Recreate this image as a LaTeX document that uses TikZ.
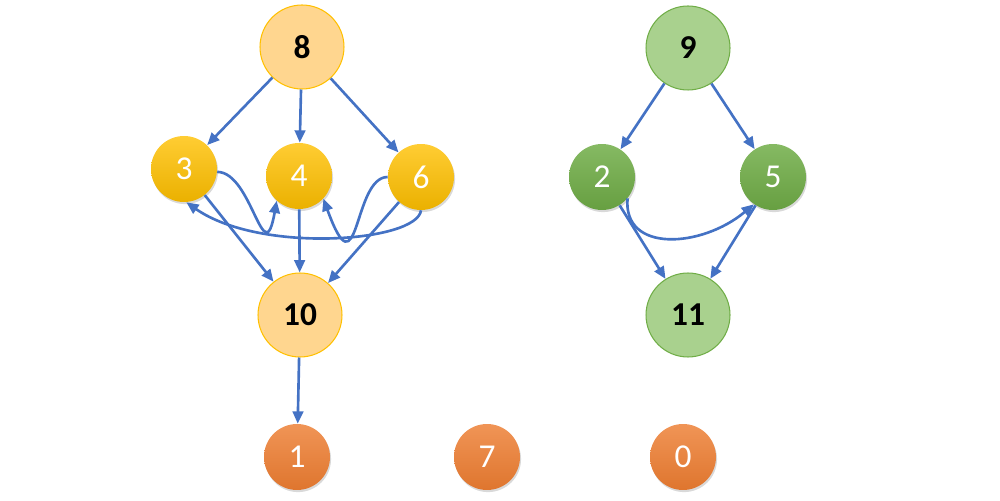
\documentclass[tikz,border=0pt]{standalone}
\usepackage{fontspec}
\setmainfont{Carlito}
\usetikzlibrary{arrows.meta,shadows}
\definecolor{linkblue}{HTML}{4472C4}
\definecolor{peach}{HTML}{FFD68F}
\definecolor{gold}{HTML}{FFC000}
\definecolor{leaf}{HTML}{70AD47}
\definecolor{mint}{HTML}{A9D18E}
\definecolor{tangerine}{HTML}{ED7D31}

\begin{document}
\begin{tikzpicture}[x=0.02cm,y=0.02cm,
  bignode/.style={shape=circle,inner sep=0pt,minimum size=1.68cm,line width=0.6pt,
    font=\fontsize{19}{21}\selectfont\bfseries},
  smallnode/.style={shape=circle,inner sep=0pt,minimum size=1.32cm,text=white,
    font=\fontsize{19}{21}\selectfont,
    drop shadow={shadow xshift=0.6pt,shadow yshift=-1.2pt,opacity=0.3}},
  link/.style={draw=linkblue,line width=1.5pt,-{Triangle[length=7pt,width=6pt]}}]

\useasboundingbox (0,0) rectangle (1000,500);

\node[bignode,fill=peach,draw=gold] (8) at (302,453){8};
\node[smallnode,top color=gold!80!white,bottom color=gold!92!black] (3) at (184,331){3};
\node[smallnode,top color=gold!80!white,bottom color=gold!92!black] (4) at (299,324){4};
\node[smallnode,top color=gold!80!white,bottom color=gold!92!black] (6) at (421,323){6};
\node[bignode,fill=peach,draw=gold] (10) at (300,185){10};
\node[smallnode,top color=tangerine!82!white,bottom color=tangerine!94!black] (1) at (297,43){1};
\node[smallnode,top color=tangerine!82!white,bottom color=tangerine!94!black] (7) at (487,43){7};
\node[smallnode,top color=tangerine!82!white,bottom color=tangerine!94!black] (0) at (683,43){0};
\node[bignode,fill=mint,draw=leaf] (9) at (688,452){9};
\node[smallnode,top color=leaf!85!white,bottom color=leaf!92!black] (2) at (602,323){2};
\node[smallnode,top color=leaf!85!white,bottom color=leaf!92!black] (5) at (773,323){5};
\node[bignode,fill=mint,draw=leaf] (11) at (688,185){11};

\draw[link] (8) -- (3);
\draw[link] (8) -- (4);
\draw[link] (8) -- (6);
\draw[link] (3) -- (10);
\draw[link] (4) -- (10);
\draw[link] (6) -- (10);
\draw[link] (10) -- (1);
\draw[link] (3.-5) .. controls +(0:35) and +(-100:75) .. (4.-132);
\draw[link] (6.180) .. controls +(180:35) and +(-70:105) .. (4.-43);
\draw[link] (6.-90) .. controls +(-97:32) and +(-35:90) .. (3.-86);
\draw[link] (9) -- (2);
\draw[link] (9) -- (5);
\draw[link] (2) -- (11);
\draw[link] (5) -- (11);
\draw[link] (2.-40) .. controls +(-95:55) and +(-140:68) .. (5.-125);

\end{tikzpicture}
\end{document}
